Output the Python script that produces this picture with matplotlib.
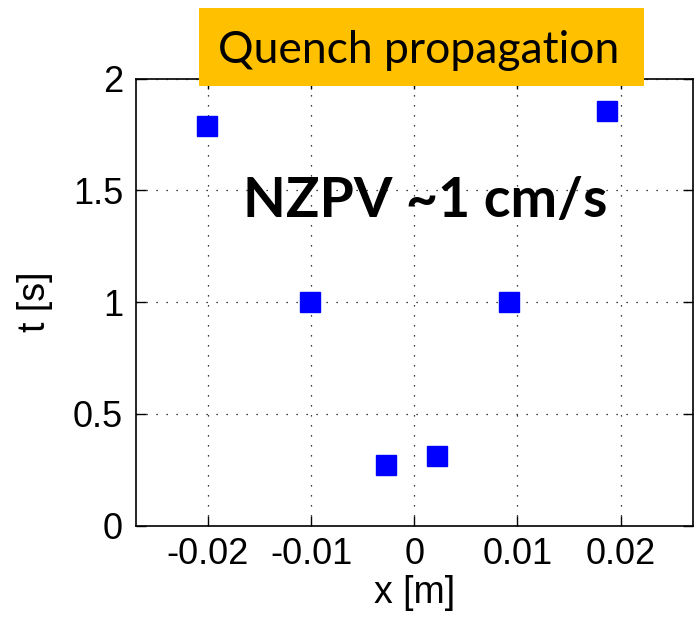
import matplotlib
matplotlib.use("Agg")
import matplotlib.pyplot as plt
from matplotlib.patches import Rectangle

# Data
x_pos = [-0.0201, -0.0101, -0.0027, 0.00225, 0.00915, 0.0187]
t_val = [1.788, 1.002, 0.272, 0.312, 1.002, 1.857]
x_ticks = [-0.02, -0.01, 0, 0.01, 0.02]
x_tick_labels = ["-0.02", "-0.01", "0", "0.01", "0.02"]
y_ticks = [0, 0.5, 1, 1.5, 2]
y_tick_labels = ["0", "0.5", "1", "1.5", "2"]
title_text = "Quench propagation"
note_text = "NZPV ~1 cm/s"

fig = plt.figure(figsize=(6.96, 6.2), dpi=100)
ax = fig.add_axes([0.1947, 0.1521, 0.8010, 0.7209])

ax.plot(x_pos, t_val, linestyle="none", marker="s", markersize=15,
        markerfacecolor="#0000ff", markeredgecolor="#0000ff", zorder=3)

ax.set_xlim(-0.027, 0.027)
ax.set_ylim(0, 2)
ax.set_xticks(x_ticks)
ax.set_xticklabels(x_tick_labels)
ax.set_yticks(y_ticks)
ax.set_yticklabels(y_tick_labels)

for lab in ax.get_xticklabels() + ax.get_yticklabels():
    lab.set_fontfamily("Liberation Sans")
    lab.set_fontsize(26)

ax.tick_params(axis="x", direction="in", length=7, width=1, top=True,
               pad=8, colors="black")
ax.tick_params(axis="y", direction="in", length=7, width=1, right=True,
               pad=9, colors="black")
ax.grid(True, color="black", linestyle=(0, (1, 7)), linewidth=0.9)
for s in ax.spines.values():
    s.set_linewidth(1.2)

ax.set_xlabel("x [m]", fontfamily="Liberation Sans", fontsize=27, labelpad=2)
ax.set_ylabel("t [s]", fontfamily="Liberation Sans", fontsize=27, labelpad=14)

# Orange title box
fig.patches.append(Rectangle((0.2853, 0.8613), 0.6398, 0.1258,
                             transform=fig.transFigure, facecolor="#ffc000",
                             edgecolor="none", zorder=5))
fig.text(0.6017, 0.898, title_text, ha="center", va="baseline",
         fontfamily="Lato", fontsize=32, color="black", zorder=6)

fig.text(0.6106, 0.6505, note_text, ha="center", va="baseline",
         fontfamily="Lato", fontweight="bold", fontsize=40, color="black",
         zorder=6)

fig.savefig("out.png", dpi=100)
